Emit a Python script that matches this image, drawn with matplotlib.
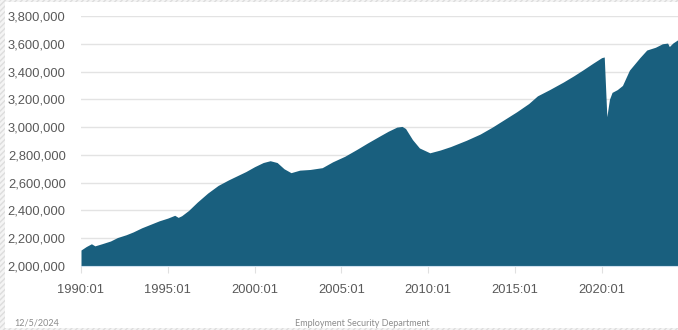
import matplotlib.pyplot as plt
from matplotlib.patches import Rectangle
from matplotlib.ticker import FuncFormatter

# employment (decimal year, jobs)
years = [1990.0, 1990.3, 1990.6, 1990.8, 1991.2, 1991.7, 1992.1, 1992.6, 1993.0,
         1993.5, 1994.0, 1994.5, 1995.0, 1995.4, 1995.6, 1995.8, 1996.2, 1996.7,
         1997.3, 1997.9, 1998.5, 1999.0, 1999.5, 2000.0, 2000.5, 2000.9, 2001.3,
         2001.7, 2002.1, 2002.6, 2003.2, 2003.9, 2004.5, 2005.2, 2005.9, 2006.5,
         2007.2, 2007.7, 2008.2, 2008.5, 2008.7, 2009.1, 2009.5, 2010.1, 2010.7,
         2011.3, 2012.2, 2013.0, 2013.7, 2014.4, 2015.1, 2015.8, 2016.3, 2017.0,
         2017.8, 2018.4, 2018.9, 2019.5, 2020.0, 2020.15, 2020.3, 2020.45, 2020.6,
         2020.9, 2021.2, 2021.6, 2022.2, 2022.6, 2023.1, 2023.5, 2023.8, 2023.9,
         2024.1, 2024.4]
jobs = [2115000, 2140000, 2160000, 2145000, 2160000, 2180000, 2205000, 2225000, 2245000,
        2275000, 2300000, 2325000, 2345000, 2365000, 2350000, 2362000, 2400000, 2460000,
        2525000, 2580000, 2620000, 2650000, 2680000, 2715000, 2745000, 2758000, 2745000,
        2700000, 2672000, 2690000, 2695000, 2708000, 2750000, 2790000, 2840000, 2885000,
        2935000, 2970000, 3000000, 3005000, 2990000, 2910000, 2850000, 2815000, 2835000,
        2860000, 2905000, 2950000, 3000000, 3055000, 3110000, 3170000, 3225000, 3270000,
        3325000, 3370000, 3410000, 3460000, 3500000, 3505000, 3075000, 3200000, 3250000,
        3270000, 3300000, 3410000, 3500000, 3555000, 3575000, 3600000, 3605000, 3580000,
        3605000, 3630000]

xticks = [1990, 1995, 2000, 2005, 2010, 2015, 2020]
xlabels = ['1990:01', '1995:01', '2000:01', '2005:01', '2010:01', '2015:01', '2020:01']
yticks = list(range(2000000, 3800001, 200000))

fig = plt.figure(figsize=(6.78, 3.30), dpi=100)

# hatched slide background with white card
fig.patches.append(Rectangle((0, 0), 1, 1, transform=fig.transFigure,
                             facecolor='#f4f4f4', edgecolor='#dddddd',
                             hatch='//////', linewidth=0, zorder=-2))
fig.patches.append(Rectangle((5/678, 2/330), 1, 1 - 4/330, transform=fig.transFigure,
                             facecolor='white', edgecolor='none', zorder=-1))

ax = fig.add_axes([81/678, 64/330, 597/678, 250/330])
ax.set_facecolor('none')

ax.fill_between(years, jobs, 2000000, color='#195f7e', linewidth=0, zorder=2)

ax.set_xlim(1990, 2024.4)
ax.set_ylim(2000000, 3800000)
ax.set_yticks(yticks)
ax.yaxis.set_major_formatter(FuncFormatter(lambda v, p: f'{int(v):,}'))
ax.set_xticks(xticks)
ax.set_xticklabels(xlabels)

ax.grid(axis='y', color='#e3e3e3', linewidth=1, zorder=0)
for s in ['top', 'right', 'left']:
    ax.spines[s].set_visible(False)
ax.spines['bottom'].set_color('#cfe0ee')

ax.tick_params(axis='y', length=0, pad=11, labelsize=9.3, labelcolor='#595959',
               labelfontfamily='Liberation Sans')
ax.tick_params(axis='x', length=5, color='#e0e0e0', pad=8, labelsize=9.3,
               labelcolor='#595959', labelfontfamily='Liberation Sans')

fig.text(14/678, 1 - 323/330, '12/5/2024', fontsize=6.5, color='#8c8c8c',
         family='Lato', va='center')
fig.text(362/678, 1 - 323/330, 'Employment Security Department', fontsize=6.5,
         color='#8c8c8c', family='Lato', va='center', ha='center')

fig.savefig('out.png', dpi=100)
